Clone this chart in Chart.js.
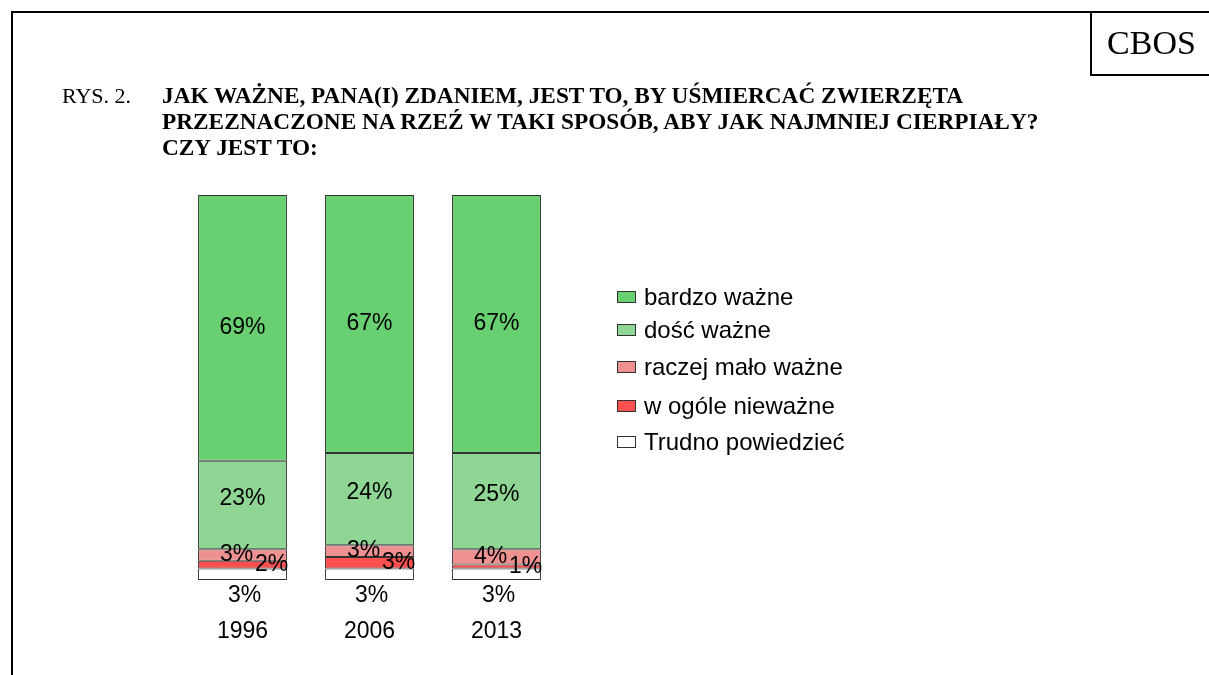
<!DOCTYPE html>
<html>
<head>
<meta charset="utf-8">
<script src="https://cdn.jsdelivr.net/npm/chart.js@4.4.0/dist/chart.umd.min.js"></script>
<style>
  html, body { margin: 0; padding: 0; background: #fff; }
  #page { position: relative; width: 1209px; height: 675px; overflow: hidden; }
  #chart { position: absolute; left: 0; top: 0; }
  .frame-top { position: absolute; left: 11px; top: 11px; width: 1198px; height: 2px; background: #000; }
  .frame-left { position: absolute; left: 11px; top: 11px; width: 2px; height: 664px; background: #000; }
  .cbos { position: absolute; left: 1090px; top: 11px; width: 119px; height: 63px; border-left: 2px solid #000; border-bottom: 2px solid #000;
          font: 34px "Liberation Serif", "Times New Roman", serif; text-align: center; line-height: 64px; }
  .rys { position: absolute; left: 62px; top: 83px; font: 22px "Liberation Serif", serif; line-height: 26px; }
  .title { position: absolute; left: 162px; top: 83px; font: bold 23.3px "Liberation Serif", serif; line-height: 25.8px; white-space: nowrap; }
  .legend { position: absolute; left: 617px; top: 0; font: 24px "Liberation Sans", Arial, sans-serif; }
  .legend div { position: absolute; white-space: nowrap; line-height: 28px; }
  .legend span.box { display: inline-block; width: 17px; height: 10px; border: 1px solid #333; margin-right: 8px; vertical-align: 2px; }
</style>
</head>
<body>
<div id="page">
  <canvas id="chart" width="1209" height="675"></canvas>
  <div class="frame-top"></div>
  <div class="frame-left"></div>
  <div class="cbos">CBOS</div>
  <div class="rys">RYS. 2.</div>
  <div class="title">JAK WAŻNE, PANA(I) ZDANIEM, JEST TO, BY UŚMIERCAĆ ZWIERZĘTA<br>PRZEZNACZONE NA RZEŹ W TAKI SPOSÓB, ABY JAK NAJMNIEJ CIERPIAŁY?<br>CZY JEST TO:</div>
  <div class="legend" id="legend"></div>
</div>
<script>
(function() {
	'use strict';

	// Data
	const years = ['1996', '2006', '2013'];
	const seriesNames = ['bardzo ważne', 'dość ważne', 'raczej mało ważne', 'w ogóle nieważne', 'Trudno powiedzieć'];
	const bardzoWazne = [69, 67, 67];
	const dosycWazne = [23, 24, 25];
	const raczejMaloWazne = [3, 3, 4];
	const wOgoleNiewazne = [2, 3, 1];
	const trudnoPowiedziec = [3, 3, 3];
	const seriesColors = ['#69d072', '#8fd594', '#ee9190', '#ff5050', '#ffffff'];
	const legendRows = [297, 330, 367, 406, 442];

	// Stack bottom-up: trudno at the bottom, bardzo ważne on top
	const stackOrder = [
		{ idx: 4, data: trudnoPowiedziec },
		{ idx: 3, data: wOgoleNiewazne },
		{ idx: 2, data: raczejMaloWazne },
		{ idx: 1, data: dosycWazne },
		{ idx: 0, data: bardzoWazne }
	];

	const datasets = stackOrder.map(function(s) {
		return {
			label: seriesNames[s.idx],
			data: s.data,
			backgroundColor: seriesColors[s.idx],
			borderColor: '#333',
			borderWidth: 1,
			borderSkipped: false,
			seriesIndex: s.idx,
			categoryPercentage: 1,
			barPercentage: 0.7
		};
	});

	const labelFont = '23px "Liberation Sans", Arial, sans-serif';

	/**
	 * Draw percentage labels and year labels
	 */
	const valueLabels = {
		id: 'valueLabels',
		afterDatasetsDraw: function(chart) {
			const ctx = chart.ctx;
			const xScale = chart.scales.x;
			const bottom = chart.chartArea.bottom;
			ctx.save();
			ctx.font = labelFont;
			ctx.fillStyle = '#000';
			ctx.textAlign = 'center';
			ctx.textBaseline = 'middle';

			chart.data.datasets.forEach(function(ds, di) {
				const meta = chart.getDatasetMeta(di);
				meta.data.forEach(function(bar, i) {
					const v = ds.data[i];
					const cx = bar.x;
					const cy = (bar.y + bar.base) / 2;
					const txt = v + '%';
					if (ds.seriesIndex === 0) {
						ctx.fillText(txt, cx, cy);
					} else if (ds.seriesIndex === 1) {
						ctx.fillText(txt, cx, cy - 6);
					} else if (ds.seriesIndex === 2) {
						ctx.fillText(txt, cx - 6, cy);
					} else if (ds.seriesIndex === 3) {
						ctx.fillText(txt, cx + 29, cy);
					} else {
						ctx.fillText(txt, cx + 2, bottom + 16);
					}
				});
			});

			years.forEach(function(y, i) {
				ctx.fillText(y, xScale.getPixelForValue(i), bottom + 52);
			});
			ctx.restore();
		}
	};

	new Chart(document.getElementById('chart').getContext('2d'), {
		type: 'bar',
		data: { labels: years, datasets: datasets },
		options: {
			responsive: false,
			animation: false,
			layout: { padding: { left: 179, right: 649, top: 195, bottom: 95 } },
			plugins: { legend: { display: false }, tooltip: { enabled: false } },
			scales: {
				x: { stacked: true, display: false },
				y: { stacked: true, display: false, min: 0, max: 100 }
			}
		},
		plugins: [valueLabels]
	});

	// Legend
	const legend = document.getElementById('legend');
	seriesNames.forEach(function(name, i) {
		const row = document.createElement('div');
		row.style.top = (legendRows[i] - 14) + 'px';
		const box = document.createElement('span');
		box.className = 'box';
		box.style.background = seriesColors[i];
		row.appendChild(box);
		row.appendChild(document.createTextNode(name));
		legend.appendChild(row);
	});
})();
</script>
</body>
</html>
